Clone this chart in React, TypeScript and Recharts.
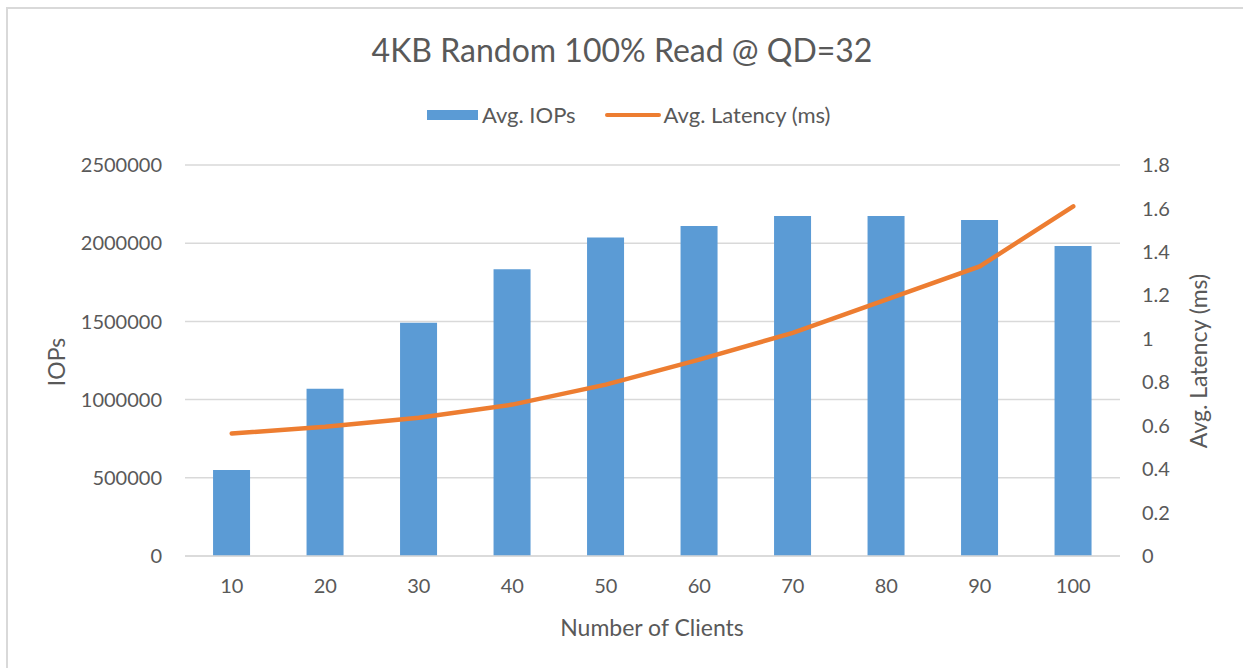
import React from 'react';
import {
  ComposedChart,
  Bar,
  Line,
  XAxis,
  YAxis,
  CartesianGrid,
  Legend,
  Label,
} from 'recharts';

const clients = ['10', '20', '30', '40', '50', '60', '70', '80', '90', '100'];
const avgIops = [550000, 1070000, 1492000, 1833000, 2036000, 2110000, 2174000, 2174000, 2148000, 1982000];
const avgLatency = [0.564, 0.595, 0.636, 0.697, 0.789, 0.904, 1.027, 1.18, 1.333, 1.61];
const iopsTicks = [0, 500000, 1000000, 1500000, 2000000, 2500000];
const latencyTicks = [0, 0.2, 0.4, 0.6, 0.8, 1, 1.2, 1.4, 1.6, 1.8];

const FONT = 'Lato, "Open Sans", sans-serif';
const TEXT = '#595959';
const BLUE = '#5B9BD5';
const ORANGE = '#ED7D31';
const GRID = '#d9d9d9';

const data = clients.map((c, i) => ({ clients: c, iops: avgIops[i], latency: avgLatency[i] }));

function ChartLegend() {
  return (
    <div style={{ display: 'flex', alignItems: 'center', fontFamily: FONT, fontSize: 22, lineHeight: 1, color: TEXT, whiteSpace: 'nowrap' }}>
      <span style={{ display: 'inline-block', width: 51, height: 10, background: BLUE, marginRight: 4 }} />
      <span>Avg. IOPs</span>
      <span style={{ display: 'inline-block', width: 56, height: 4, background: ORANGE, borderRadius: 2, marginLeft: 29, marginRight: 3 }} />
      <span>Avg. Latency (ms)</span>
    </div>
  );
}

export default function App() {
  return (
    <div style={{ position: 'fixed', left: 0, top: 0, width: 1243, height: 668, overflow: 'hidden', background: '#fff' }}>
      <div
        style={{
          position: 'absolute',
          left: 6,
          top: 7,
          width: 1300,
          height: 700,
          borderTop: `2px solid ${GRID}`,
          borderLeft: `2px solid ${GRID}`,
        }}
      />
      <div
        style={{
          position: 'absolute',
          left: 0,
          top: 34,
          width: 1244,
          textAlign: 'center',
          fontFamily: FONT,
          fontSize: 32,
          lineHeight: 1,
          color: TEXT,
        }}
      >
        4KB Random 100% Read @ QD=32
      </div>
      <ComposedChart
        width={1243}
        height={668}
        data={data}
        margin={{ top: 165, right: 23, bottom: 52, left: 85 }}
        barCategoryGap="30%"
        style={{ position: 'absolute', left: 0, top: 0 }}
      >
        <CartesianGrid yAxisId="left" vertical={false} stroke={GRID} strokeWidth={1.5} />
        <XAxis
          dataKey="clients"
          height={60}
          axisLine={{ stroke: GRID, strokeWidth: 1.5 }}
          tickLine={false}
          tickMargin={17}
          tick={{ fill: TEXT, fontSize: 20, fontFamily: FONT }}
        >
          <Label
            content={() => (
              <text x={652} y={636} textAnchor="middle" fill={TEXT} fontSize={23} fontFamily={FONT}>
                Number of Clients
              </text>
            )}
          />
        </XAxis>
        <YAxis
          yAxisId="left"
          width={100}
          domain={[0, 2500000]}
          ticks={iopsTicks}
          axisLine={false}
          tickLine={false}
          tickMargin={17}
          tick={{ fill: TEXT, fontSize: 20, fontFamily: FONT }}
        >
          <Label
            content={() => (
              <text x={65} y={362} transform="rotate(-90 65 362)" textAnchor="middle" fill={TEXT} fontSize={23} fontFamily={FONT}>
                IOPs
              </text>
            )}
          />
        </YAxis>
        <YAxis
          yAxisId="right"
          orientation="right"
          width={100}
          domain={[0, 1.8]}
          ticks={latencyTicks}
          axisLine={false}
          tickLine={false}
          tickMargin={16}
          tick={{ fill: TEXT, fontSize: 20, fontFamily: FONT }}
        >
          <Label
            content={() => (
              <text x={1207} y={361} transform="rotate(-90 1207 361)" textAnchor="middle" fill={TEXT} fontSize={23} fontFamily={FONT}>
                Avg. Latency (ms)
              </text>
            )}
          />
        </YAxis>
        <Legend
          layout="horizontal"
          verticalAlign="middle"
          align="center"
          content={() => <ChartLegend />}
          wrapperStyle={{ top: 104, left: 427, width: 'auto', height: 'auto' }}
        />
        <Bar yAxisId="left" dataKey="iops" name="Avg. IOPs" fill={BLUE} isAnimationActive={false} />
        <Line
          yAxisId="right"
          dataKey="latency"
          name="Avg. Latency (ms)"
          type="linear"
          stroke={ORANGE}
          strokeWidth={4.5}
          strokeLinecap="round"
          dot={false}
          activeDot={false}
          isAnimationActive={false}
        />
      </ComposedChart>
    </div>
  );
}
